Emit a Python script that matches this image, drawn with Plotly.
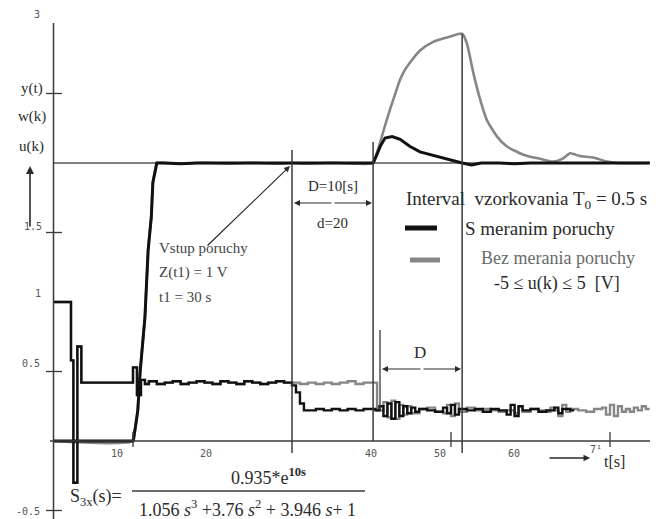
import plotly.graph_objects as go

# ---------------- data ----------------
# output y(t): common part (both controllers identical until disturbance effect)
t_y_common = [0, 10, 10.25, 10.6, 10.9, 11.25, 11.5, 11.9, 12.1, 12.3, 12.5, 12.8, 13.0,
              14, 16, 18, 20, 22, 24, 26, 28, 30, 32, 34, 36, 38, 40.2]
y_common = [0, 0, 0.08, 0.22, 0.5, 0.73, 0.89, 1.37, 1.5, 1.61, 1.86, 1.95, 2.0,
            2.0, 1.995, 2.0, 2.0, 1.995, 2.0, 2.0, 1.995, 2.0, 1.995, 2.0, 2.0, 1.995, 2.0]
# with disturbance measurement (black)
t_y_black_tail = [40.6, 41.1, 41.7, 42.6, 43.6, 44.8, 46.1, 47.4, 48.6, 49.9, 51.4, 52.6, 53.8,
                  56, 58, 60, 62, 64, 66, 68, 70, 72, 75]
y_black_tail = [2.05, 2.12, 2.18, 2.19, 2.17, 2.12, 2.08, 2.06, 2.04, 2.02, 2.0, 1.985, 2.0,
                2.0, 1.995, 2.0, 2.0, 2.0, 1.995, 2.0, 2.0, 2.0, 2.0]
# without disturbance measurement (gray)
t_y_gray_tail = [40.6, 41.1, 41.6, 42.3, 43.0, 43.6, 44.2, 44.8, 46.1, 47.7, 49.9, 51.4, 52.0,
                 52.8, 53.7, 54.5, 55.8, 57.0, 59.1, 61.2, 62.8, 64.0, 65.0, 66.2, 67.9, 69.6,
                 71.0, 75.0]
y_gray_tail = [2.06, 2.15, 2.25, 2.38, 2.5, 2.6, 2.67, 2.72, 2.81, 2.87, 2.91, 2.93, 2.86,
               2.65, 2.45, 2.31, 2.19, 2.12, 2.06, 2.03, 2.01, 2.03, 2.07, 2.05, 2.04, 2.01,
               2.0, 2.0]

# control u(k): common part
t_u_common = [0, 2.2, 2.5, 3.0, 3.5, 10.0, 10.5, 11.0, 11.5, 12, 13, 14, 15, 16, 17, 18, 19, 20,
              21, 22, 23, 24, 25, 26, 27, 28, 29]
u_common = [1.0, 0.58, -0.3, 0.68, 0.42, 0.53, 0.33, 0.44, 0.41, 0.43, 0.41, 0.42, 0.43, 0.41, 0.42,
            0.43, 0.42, 0.41, 0.43, 0.42, 0.41, 0.43, 0.42, 0.41, 0.42, 0.43, 0.42]
# black u tail (with disturbance measurement)
t_u_black_tail = [30.0, 30.5, 31.0, 31.5, 33, 34, 35, 36, 37, 38, 39, 40.5,
                  41.0, 41.5, 42.0, 42.5, 43.0, 43.5, 44.0, 44.5, 45.0, 45.5, 46.0, 47.0, 48.0,
                  49.0, 49.5, 50.0, 50.5, 51.0, 52.0, 53.0, 54.0, 55.0, 56.0, 57.0, 57.5, 58.0,
                  58.5, 59.0, 60.0, 61.0, 62.0, 63.0, 63.5, 64.0, 65.0, 65.5]
u_black_tail = [0.40, 0.35, 0.27, 0.22, 0.23, 0.22, 0.23, 0.22, 0.23, 0.22, 0.23, 0.22,
                0.25, 0.18, 0.27, 0.16, 0.28, 0.18, 0.25, 0.20, 0.24, 0.21, 0.23, 0.22, 0.21,
                0.24, 0.20, 0.26, 0.19, 0.23, 0.22, 0.23, 0.21, 0.23, 0.22, 0.19, 0.26, 0.18,
                0.25, 0.22, 0.23, 0.21, 0.22, 0.24, 0.20, 0.23, 0.22, 0.22]
# gray u tail (without disturbance measurement)
t_u_gray_tail = [30, 31, 32, 33, 34, 35, 36, 37, 38, 39, 40, 40.7,
                 41.5, 42.0, 42.5, 43.0, 43.5, 44.0, 44.5, 45.0, 46.0, 47.0, 48.0, 49.0, 49.5,
                 50.0, 50.5, 51.0, 52.0, 53.0, 54.0, 55.0, 56.0, 57.0, 58.0, 58.5, 59.0, 60.0,
                 61.0, 62.0, 62.5, 63.0, 63.5, 64.0, 64.5, 65.0, 66.0, 67.0, 68.0, 69.0, 69.5,
                 70.0, 70.5, 71.0, 71.5, 72.0, 72.5, 73.0, 73.5, 74.0, 74.5, 75.0]
u_gray_tail = [0.42, 0.41, 0.42, 0.41, 0.42, 0.41, 0.42, 0.43, 0.41, 0.42, 0.42, 0.22,
               0.28, 0.17, 0.29, 0.16, 0.26, 0.19, 0.25, 0.20, 0.23, 0.24, 0.21, 0.20, 0.26,
               0.18, 0.27, 0.21, 0.24, 0.22, 0.23, 0.22, 0.21, 0.22, 0.20, 0.25, 0.21, 0.23,
               0.22, 0.21, 0.24, 0.22, 0.18, 0.26, 0.21, 0.23, 0.22, 0.21, 0.23, 0.24, 0.19,
               0.26, 0.18, 0.25, 0.21, 0.23, 0.21, 0.24, 0.22, 0.25, 0.23, 0.23]

setpoint_t = [0, 75]
setpoint_w = [2.0, 2.0]

marker_lines_t = [30, 40.2, 51.4]
x_tick_vals = [10, 50, 70]
x_label_vals = [10, 20, 40, 50, 60]
x_label_text = ["10", "20", "40", "50", "60"]
y_tick_vals = [2.5, 1.5, 0.5, -0.5]
y_label_vals = [3, 1.5, 1, 0.5, -0.5]
y_label_text = ["3", "1.5", "1", "0.5", "-0.5"]

# ---------------- figure ----------------
W, H = 665, 519
X0_PX, PX_PER_T = 53.5, 7.95
Y0_PX, PX_PER_V = 441.0, 139.0
x_range = [(0 - X0_PX) / PX_PER_T, (W - X0_PX) / PX_PER_T]
y_range = [(Y0_PX - H) / PX_PER_V, Y0_PX / PX_PER_V]


def tx(px):
    return (px - X0_PX) / PX_PER_T


def vy(py):
    return (Y0_PX - py) / PX_PER_V


GRAY = "#868686"
BLACK = "#111111"
LINEC = "#3a3a3a"
SERIF = "Liberation Serif"
SANS = "DejaVu Sans Mono"

fig = go.Figure()

fig.add_trace(go.Scatter(x=setpoint_t, y=setpoint_w, mode="lines",
                         line=dict(color="#555555", width=1.3), hoverinfo="skip"))
fig.add_trace(go.Scatter(x=t_u_common + t_u_gray_tail, y=u_common + u_gray_tail, mode="lines",
                         line=dict(color=GRAY, width=2.4, shape="hv"), hoverinfo="skip"))
fig.add_trace(go.Scatter(x=t_y_common + t_y_gray_tail, y=y_common + y_gray_tail, mode="lines",
                         line=dict(color=GRAY, width=2.6, shape="spline", smoothing=0.6),
                         hoverinfo="skip"))
fig.add_trace(go.Scatter(x=t_u_common + t_u_black_tail, y=u_common + u_black_tail, mode="lines",
                         line=dict(color=BLACK, width=2.4, shape="hv"), hoverinfo="skip"))
fig.add_trace(go.Scatter(x=t_y_common + t_y_black_tail, y=y_common + y_black_tail, mode="lines",
                         line=dict(color=BLACK, width=3), hoverinfo="skip"))

shapes = []
# axes
shapes.append(dict(type="line", x0=0, x1=0, y0=y_range[0], y1=vy(23), xref="x", yref="y",
                   line=dict(color=LINEC, width=1.5)))
shapes.append(dict(type="line", x0=tx(50), x1=tx(650), y0=0, y1=0, xref="x", yref="y",
                   line=dict(color=LINEC, width=1.5)))
# y ticks (crossing)
for v in y_tick_vals:
    shapes.append(dict(type="line", x0=tx(46), x1=tx(62), y0=v, y1=v, xref="x", yref="y",
                       line=dict(color=LINEC, width=1.3)))
# x ticks
for t in x_tick_vals:
    shapes.append(dict(type="line", x0=t, x1=t, y0=vy(432), y1=vy(447), xref="x", yref="y",
                       line=dict(color=LINEC, width=1.3)))
# marker vertical lines
tops = [vy(150), vy(142), vy(34)]
bottoms = [vy(453), 0, vy(453)]
for t, a, b in zip(marker_lines_t, tops, bottoms):
    shapes.append(dict(type="line", x0=t, x1=t, y0=b, y1=a, xref="x", yref="y",
                       line=dict(color=LINEC, width=1.5)))
shapes.append(dict(type="line", x0=tx(380), x1=tx(380), y0=vy(410), y1=vy(330), xref="x", yref="y",
                   line=dict(color=LINEC, width=1.3)))
# legend dashes
shapes.append(dict(type="line", x0=tx(405), x1=tx(437), y0=vy(228), y1=vy(228), xref="x", yref="y",
                   line=dict(color=BLACK, width=5)))
shapes.append(dict(type="line", x0=tx(410), x1=tx(440), y0=vy(260), y1=vy(260), xref="x", yref="y",
                   line=dict(color=GRAY, width=5)))
# fraction bar
shapes.append(dict(type="line", x0=tx(132), x1=tx(365), y0=vy(491), y1=vy(491), xref="x", yref="y",
                   line=dict(color=LINEC, width=1.3)))

annotations = []


def text(px, py, s, size=15, color="#2a2a2a", family=SERIF, anchor="center"):
    annotations.append(dict(x=tx(px), y=vy(py), xref="x", yref="y", text=s, showarrow=False,
                            font=dict(size=size, color=color, family=family),
                            xanchor=anchor, yanchor="middle"))


def arrow(px0, py0, px1, py1, head=2, width=1.2):
    annotations.append(dict(x=tx(px1), y=vy(py1), ax=tx(px0), ay=vy(py0), xref="x", yref="y",
                            axref="x", ayref="y", text="", showarrow=True, arrowhead=head,
                            arrowsize=1, arrowwidth=width, arrowcolor="#2a2a2a"))


# tick labels
x_label_shift = [-16, -7, -1, -11, -17]
for t, s, sh in zip(x_label_vals, x_label_text, x_label_shift):
    text(X0_PX + PX_PER_T * t + sh, 453, s, size=10, color="#555555", family=SANS)
y_label_px = [37, 33, 38, 31, 28]
y_label_py = [14, 226, 293, 363, 511]
for v, s, px, py in zip(y_label_vals, y_label_text, y_label_px, y_label_py):
    text(px, py, s, size=10, color="#555555", family=SANS)

# axis names
text(32, 88, "y(t)", size=15)
text(32, 116, "w(k)", size=15)
text(31, 146, "u(k)", size=15)
arrow(30, 228, 30, 166, head=2, width=1.6)

text(596, 449, "7¹", size=10, color="#555555", family=SANS)
text(614, 461, "t[s]", size=16)
arrow(548, 458, 590, 458, head=2, width=1.3)

# disturbance annotation
text(157, 248, "Vstup poruchy", size=15, color="#444444", anchor="left")
text(157, 272, "Z(t1) = 1 V", size=15, color="#444444", anchor="left")
text(157, 297, "t1 = 30 s", size=15, color="#444444", anchor="left")
arrow(206, 247, 290, 166, head=2, width=1.2)

# dead-time arrows
text(333, 186, "D=10[s]", size=15)
text(332, 223, "d=20", size=15)
arrow(333, 203, 294, 203, head=2)
arrow(333, 203, 372, 203, head=2)
text(420, 352, "D", size=17)
arrow(422, 369, 382, 369, head=2)
arrow(422, 369, 461, 369, head=2)

# legend text
text(526, 200, "Interval  vzorkovania T<sub>0</sub> = 0.5 s", size=19)
text(540, 228, "S meranim poruchy", size=19)
text(558, 258, "Bez merania poruchy", size=18, color="#6a6a6a")
text(557, 283, "-5 ≤ u(k) ≤ 5  [V]", size=18)

# transfer function
text(96, 497, "S<sub>3x</sub>(s)=", size=18)
text(268, 476, "0.935*e<sup><b>10s</b></sup>", size=18)
text(247, 508, "1.056 <i>s</i><sup>3</sup> +3.76 <i>s</i><sup>2</sup> + 3.946 <i>s</i>+ 1", size=18)

fig.update_layout(
    width=W, height=H,
    margin=dict(l=0, r=0, t=0, b=0),
    paper_bgcolor="white", plot_bgcolor="white",
    showlegend=False,
    xaxis=dict(range=x_range, visible=False, fixedrange=True),
    yaxis=dict(range=y_range, visible=False, fixedrange=True),
    shapes=shapes,
    annotations=annotations,
)

fig.write_html("out.html", config={"displayModeBar": False},
               post_script="document.body.style.margin='0px';")
